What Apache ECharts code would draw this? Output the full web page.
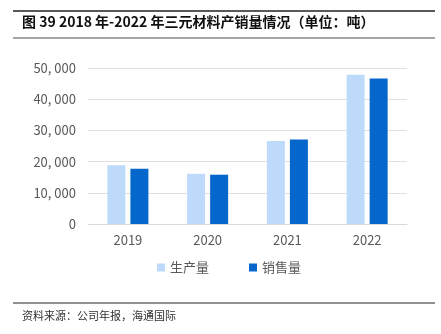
<!DOCTYPE html>
<html><head><meta charset="utf-8">
<script src="https://cdn.jsdelivr.net/npm/echarts@6/dist/echarts.min.js"></script>
<style>html,body{margin:0;padding:0;background:#fff}#c{width:441px;height:334px}</style>
</head><body><div id="c"></div>
<script>
const categories = ['2019', '2020', '2021', '2022'];
const production = [18800, 16100, 26600, 47800];
const sales = [17700, 15800, 27100, 46600];
const seriesNames = ['生产量', '销售量'];
const titleText = '图 39 2018 年-2022 年三元材料产销量情况（单位：吨）';
const sourceText = '资料来源：公司年报，海通国际';

const chart = echarts.init(document.getElementById('c'));
chart.setOption({
  animation: false,
  textStyle: { fontFamily: '"Noto Sans CJK SC", "Noto Sans", sans-serif' },
  grid: { left: 88, right: 34, top: 68, bottom: 110 },
  legend: {
    data: seriesNames, bottom: 55, left: 152, itemGap: 40,
    itemWidth: 8, itemHeight: 8, icon: 'rect',
    textStyle: { color: '#595959', fontSize: 13, fontFamily: '"Noto Sans CJK SC", sans-serif' }
  },
  xAxis: {
    type: 'category', data: categories,
    axisLine: { lineStyle: { color: '#d9d9d9', width: 1 } },
    axisTick: { show: false },
    axisLabel: { color: '#595959', fontSize: 13, margin: 10 }
  },
  yAxis: {
    type: 'value', min: 0, max: 50000, interval: 10000,
    axisLine: { show: false }, axisTick: { show: false },
    splitLine: { lineStyle: { color: '#e0e0e0' } },
    axisLabel: { color: '#595959', fontSize: 13, margin: 12,
      formatter: v => v === 0 ? '0' : (v / 1000) + ', 000' }
  },
  series: [
    { name: seriesNames[0], type: 'bar', data: production, barWidth: 18, barGap: '28%',
      itemStyle: { color: '#BDDAFB' } },
    { name: seriesNames[1], type: 'bar', data: sales, barWidth: 18,
      itemStyle: { color: '#0566CB' } }
  ],
  graphic: [
    { type: 'line', shape: { x1: 13, y1: 11, x2: 435, y2: 11 }, style: { stroke: '#222', lineWidth: 1.5 } },
    { type: 'text', left: 22, top: 15, style: { text: titleText, font: 'bold 14px "Noto Sans CJK SC", sans-serif', fill: '#111' } },
    { type: 'line', shape: { x1: 13, y1: 38, x2: 435, y2: 38 }, style: { stroke: '#888', lineWidth: 1.5 } },
    { type: 'line', shape: { x1: 13, y1: 303, x2: 435, y2: 303 }, style: { stroke: '#222', lineWidth: 1 } },
    { type: 'text', left: 22, top: 310, style: { text: sourceText, font: '11px "Noto Sans CJK SC", sans-serif', fill: '#333' } }
  ]
});
</script></body></html>
